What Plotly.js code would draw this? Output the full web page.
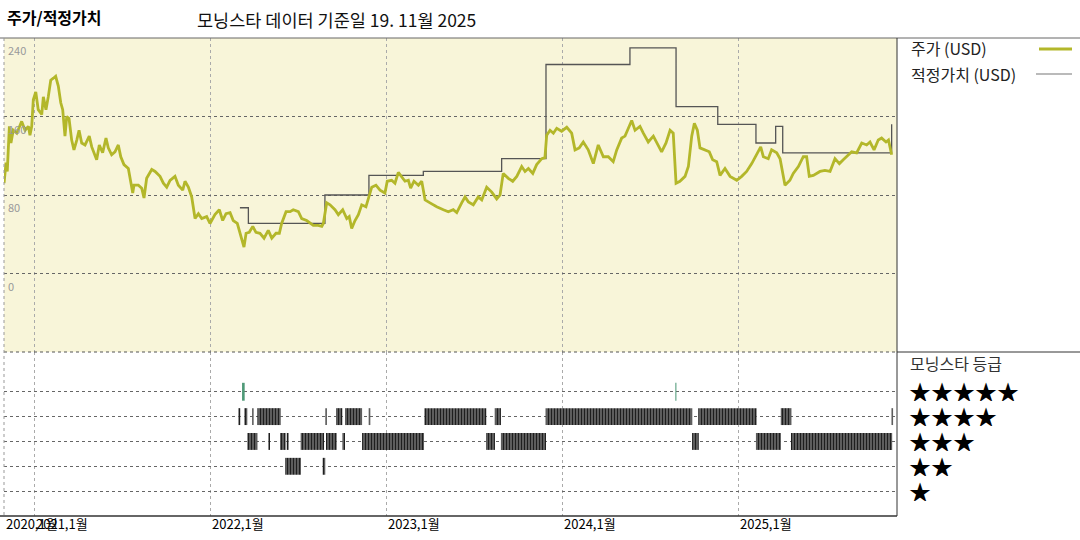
<!DOCTYPE html>
<html>
<head>
<meta charset="utf-8">
<script src="https://cdn.plot.ly/plotly-3.0.1.min.js"></script>
<style>
  html, body { margin: 0; padding: 0; background: #fff; }
  #myDiv { width: 1080px; height: 540px; }
</style>
</head>
<body>
<div id="myDiv"></div>
<script>
// dates are decimal years
var priceX = [2020.830, 2020.841, 2020.848, 2020.860, 2020.869, 2020.882, 2020.902, 2020.930, 2020.949, 2020.968,
  2020.977, 2020.987, 2020.996, 2021.010, 2021.024, 2021.044, 2021.053, 2021.068, 2021.081, 2021.095,
  2021.110, 2021.123, 2021.138, 2021.152, 2021.163, 2021.176, 2021.186, 2021.199, 2021.214, 2021.227,
  2021.243, 2021.256, 2021.271, 2021.290, 2021.314, 2021.328, 2021.356, 2021.371, 2021.390, 2021.409,
  2021.422, 2021.441, 2021.460, 2021.479, 2021.493, 2021.511, 2021.536, 2021.561, 2021.568, 2021.593,
  2021.612, 2021.625, 2021.640, 2021.669, 2021.688, 2021.716, 2021.735, 2021.754, 2021.773, 2021.801,
  2021.820, 2021.845, 2021.858, 2021.877, 2021.896, 2021.915, 2021.934, 2021.953, 2021.981, 2022.000,
  2022.028, 2022.053, 2022.072, 2022.091, 2022.114, 2022.132, 2022.155, 2022.170, 2022.193, 2022.205,
  2022.223, 2022.243, 2022.261, 2022.284, 2022.307, 2022.331, 2022.351, 2022.375, 2022.394, 2022.407,
  2022.432, 2022.455, 2022.473, 2022.502, 2022.521, 2022.549, 2022.568, 2022.587, 2022.615, 2022.635,
  2022.644, 2022.663, 2022.682, 2022.710, 2022.729, 2022.754, 2022.777, 2022.791, 2022.805, 2022.824,
  2022.843, 2022.862, 2022.886, 2022.905, 2022.919, 2022.943, 2022.966, 2022.994, 2023.007, 2023.032,
  2023.051, 2023.070, 2023.089, 2023.108, 2023.127, 2023.140, 2023.159, 2023.184, 2023.203, 2023.222,
  2023.250, 2023.288, 2023.326, 2023.354, 2023.382, 2023.402, 2023.430, 2023.449, 2023.468, 2023.496,
  2023.524, 2023.544, 2023.572, 2023.601, 2023.629, 2023.648, 2023.666, 2023.695, 2023.720, 2023.743,
  2023.771, 2023.790, 2023.809, 2023.834, 2023.856, 2023.885, 2023.903, 2023.913, 2023.932, 2023.951,
  2023.970, 2023.998, 2024.027, 2024.055, 2024.074, 2024.098, 2024.121, 2024.149, 2024.178, 2024.206,
  2024.235, 2024.263, 2024.291, 2024.311, 2024.339, 2024.358, 2024.377, 2024.396, 2024.415, 2024.443,
  2024.462, 2024.490, 2024.519, 2024.538, 2024.566, 2024.591, 2024.614, 2024.632, 2024.648, 2024.670,
  2024.699, 2024.718, 2024.737, 2024.752, 2024.769, 2024.784, 2024.813, 2024.837, 2024.856, 2024.879,
  2024.898, 2024.926, 2024.955, 2024.993, 2025.021, 2025.049, 2025.078, 2025.106, 2025.129, 2025.144,
  2025.172, 2025.191, 2025.220, 2025.239, 2025.267, 2025.295, 2025.314, 2025.343, 2025.371, 2025.390,
  2025.405, 2025.428, 2025.466, 2025.494, 2025.523, 2025.551, 2025.576, 2025.598, 2025.627, 2025.646,
  2025.674, 2025.703, 2025.731, 2025.750, 2025.773, 2025.797, 2025.816, 2025.841, 2025.855, 2025.873];
var priceY = [92, 113, 104, 150, 133, 146, 143, 155, 146, 150,
  141, 150, 177, 185, 167, 162, 180, 167, 180, 197,
  199, 201, 191, 174, 167, 140, 160, 158, 136, 126,
  136, 146, 133, 131, 140, 129, 116, 131, 123, 138,
  128, 121, 124, 131, 119, 111, 107, 82, 90, 90,
  87, 77, 97, 106, 104, 99, 92, 88, 95, 99,
  90, 85, 94, 88, 78, 56, 61, 56, 58, 51,
  60, 65, 54, 61, 62, 54, 51, 41, 27, 41,
  42, 48, 42, 41, 36, 44, 36, 41, 41, 51,
  63, 63, 65, 63, 56, 54, 51, 49, 49, 48,
  51, 72, 70, 65, 60, 65, 56, 58, 46, 54,
  60, 70, 68, 80, 88, 90, 85, 82, 94, 95,
  92, 103, 99, 94, 95, 87, 94, 90, 94, 75,
  72, 68, 65, 63, 65, 62, 72, 78, 73, 70,
  78, 75, 88, 83, 76, 80, 102, 97, 94, 99,
  109, 104, 107, 102, 111, 117, 118, 141, 146, 143,
  148, 145, 149, 143, 126, 128, 134, 126, 112, 131,
  119, 119, 114, 126, 138, 140, 148, 156, 146, 150,
  143, 134, 140, 133, 124, 133, 146, 143, 92, 94,
  99, 109, 140, 153, 146, 128, 126, 124, 116, 114,
  100, 107, 99, 95, 99, 104, 112, 121, 129, 119,
  117, 126, 123, 117, 90, 95, 102, 109, 119, 119,
  99, 100, 104, 105, 104, 117, 112, 116, 121, 124,
  123, 133, 131, 134, 126, 136, 138, 134, 136, 121];

var fairX = [2022.170, 2022.218, 2022.653, 2022.903, 2023.212, 2023.657, 2023.909, 2024.386,
  2024.648, 2024.885, 2025.102, 2025.214, 2025.254, 2025.869, 2025.873];
var fairY = [67, 51, 80, 100, 104, 117, 213, 230, 170, 152, 133, 150, 123, 123, 152];

var ratingStart = [2022.161, 2022.182, 2022.195, 2022.212, 2022.239, 2022.269, 2022.331, 2022.398,
  2022.426, 2022.436, 2022.515, 2022.640, 2022.655, 2022.659, 2022.716, 2022.752, 2022.767, 2022.864,
  2022.902, 2023.218, 2023.568, 2023.618, 2023.653, 2023.907, 2024.644, 2024.739, 2024.774, 2025.102,
  2025.243, 2025.301, 2025.872];
var ratingEnd = [2022.172, 2022.197, 2022.212, 2022.269, 2022.248, 2022.402, 2022.341, 2022.430,
  2022.517, 2022.447, 2022.648, 2022.655, 2022.663, 2022.720, 2022.752, 2022.767, 2022.864, 2023.216,
  2022.911, 2023.570, 2023.619, 2023.653, 2023.909, 2024.740, 2024.650, 2024.777, 2025.106, 2025.244,
  2025.303, 2025.876, 2025.881];
var ratingStars = [4, 5, 4, 3, 4, 4, 3, 3,
  2, 3, 3, 2, 4, 3, 4, 3, 4, 3,
  4, 4, 3, 4, 3, 4, 5, 3, 4, 3,
  4, 3, 4];

var yearTicks = [2021, 2022, 2023, 2024, 2025];
var yearLabels = ['2021,1월', '2022,1월', '2023,1월', '2024,1월', '2025,1월'];
var firstLabel = '2020,1월';
var priceTicks = [0, 80, 160, 240];
var starRows = [5, 4, 3, 2, 1];

var W = 1080, H = 540;
function px(x) { return x / W; }
function py(y) { return 1 - y / H; }

var FONT = 'Noto Sans CJK KR, Noto Sans, sans-serif';
var priceColor = '#b3b72a';
var fairColor = '#555555';

// rating bars, split into 5 star (green) and the rest (gray striped)
var gBase = [], gLen = [], gY = [], kBase = [], kLen = [], kY = [];
for (var i = 0; i < ratingStars.length; i++) {
  var len = Math.max(ratingEnd[i] - ratingStart[i], 0.006);
  if (ratingStars[i] === 5) { gBase.push(ratingStart[i]); gLen.push(len); gY.push(5); }
  else { kBase.push(ratingStart[i]); kLen.push(len); kY.push(ratingStars[i]); }
}

var data = [
  {
    x: fairX, y: fairY, type: 'scatter', mode: 'lines',
    line: {color: fairColor, width: 1.3, shape: 'hv'},
    xaxis: 'x', yaxis: 'y', hoverinfo: 'skip'
  },
  {
    x: priceX, y: priceY, type: 'scatter', mode: 'lines',
    line: {color: priceColor, width: 2.8},
    xaxis: 'x', yaxis: 'y', hoverinfo: 'skip'
  },
  {
    type: 'bar', orientation: 'h', base: kBase, x: kLen, y: kY, width: 0.68,
    marker: {color: '#4a4a4a', line: {width: 0},
      pattern: {shape: '|', fgcolor: '#1e1e1e', bgcolor: '#6a6a6a', size: 3, solidity: 0.45}},
    xaxis: 'x2', yaxis: 'y2', hoverinfo: 'skip'
  },
  {
    type: 'bar', orientation: 'h', base: gBase, x: gLen, y: gY, width: 0.72,
    marker: {color: '#4f9a78', line: {width: 0}},
    xaxis: 'x2', yaxis: 'y2', hoverinfo: 'skip'
  }
];

var xRange = [2020.8295, 2025.9034];
var annotations = [];
var shapes = [];

// titles
annotations.push({xref: 'paper', yref: 'paper', x: px(5), y: py(17), xanchor: 'left', yanchor: 'middle',
  text: '<b>주가/적정가치</b>', showarrow: false, font: {family: FONT, size: 16, color: '#000'}});
annotations.push({xref: 'paper', yref: 'paper', x: px(195), y: py(20), xanchor: 'left', yanchor: 'middle',
  text: '모닝스타 데이터 기준일 19. 11월 2025', showarrow: false, font: {family: FONT, size: 17.5, color: '#111'}});

// legend
annotations.push({xref: 'paper', yref: 'paper', x: px(909), y: py(48), xanchor: 'left', yanchor: 'middle',
  text: '주가 (USD)', showarrow: false, font: {family: FONT, size: 16, color: '#222'}});
annotations.push({xref: 'paper', yref: 'paper', x: px(909), y: py(74), xanchor: 'left', yanchor: 'middle',
  text: '적정가치 (USD)', showarrow: false, font: {family: FONT, size: 16, color: '#222'}});
shapes.push({type: 'line', xref: 'paper', yref: 'paper', x0: px(1039), x1: px(1072), y0: py(49), y1: py(49),
  line: {color: priceColor, width: 3}});
shapes.push({type: 'line', xref: 'paper', yref: 'paper', x0: px(1036), x1: px(1072), y0: py(74), y1: py(74),
  line: {color: '#777', width: 1.2}});
annotations.push({xref: 'paper', yref: 'paper', x: px(908), y: py(363), xanchor: 'left', yanchor: 'middle',
  text: '모닝스타 등급', showarrow: false, font: {family: FONT, size: 16, color: '#333'}});

// star rows (fixed box height so the rows sit tight like the reference)
starRows.forEach(function (n) {
  annotations.push({xref: 'paper', yref: 'y2', x: px(907), y: n, xanchor: 'left', yanchor: 'middle', yshift: 2,
    height: 23, valign: 'middle',
    text: '★'.repeat(n), showarrow: false, font: {family: FONT, size: 22, color: '#000'}});
});

// y tick labels, inside the plot just under each gridline
priceTicks.forEach(function (v) {
  annotations.push({xref: 'paper', yref: 'y', x: px(6), y: v, xanchor: 'left', yanchor: 'top', yshift: -2,
    text: String(v), showarrow: false, font: {family: FONT, size: 11, color: '#999'}});
});

// x tick labels, left aligned at each year
annotations.push({xref: 'x2', yref: 'paper', x: priceX[0], y: py(523), xanchor: 'left', yanchor: 'middle',
  text: firstLabel, showarrow: false, font: {family: FONT, size: 13, color: '#000'}});
yearTicks.forEach(function (t, k) {
  annotations.push({xref: 'x2', yref: 'paper', x: t, y: py(523), xanchor: 'left', yanchor: 'middle',
    text: yearLabels[k], showarrow: false, font: {family: FONT, size: 13, color: '#000'}});
});

// price panel background
shapes.push({type: 'rect', xref: 'paper', yref: 'paper', x0: px(4), x1: px(897), y0: py(352), y1: py(38),
  fillcolor: '#f8f5d9', line: {width: 0}, layer: 'below'});
// frame
shapes.push({type: 'line', xref: 'paper', yref: 'paper', x0: 0, x1: 1, y0: py(38), y1: py(38),
  line: {color: '#666', width: 1}});
shapes.push({type: 'line', xref: 'paper', yref: 'paper', x0: px(897), x1: px(897), y0: py(38), y1: py(516),
  line: {color: '#333', width: 1}});
shapes.push({type: 'line', xref: 'paper', yref: 'paper', x0: px(897), x1: 1, y0: py(352), y1: py(352),
  line: {color: '#333', width: 1}});
shapes.push({type: 'line', xref: 'paper', yref: 'paper', x0: px(4), x1: px(897), y0: py(352), y1: py(352),
  line: {color: '#555', width: 1, dash: 'dot'}});
shapes.push({type: 'line', xref: 'paper', yref: 'paper', x0: 0, x1: px(897), y0: py(516), y1: py(516),
  line: {color: '#333', width: 1.5}});
shapes.push({type: 'line', xref: 'paper', yref: 'paper', x0: px(4), x1: px(4), y0: py(38), y1: py(516),
  line: {color: '#999', width: 1, dash: 'dot'}});

var xCommon = {
  range: xRange, tickvals: yearTicks, showticklabels: false, ticks: '',
  showgrid: true, gridcolor: '#aaa', griddash: 'dot', gridwidth: 1,
  zeroline: false, showline: false, fixedrange: true
};

var layout = {
  width: W, height: H,
  margin: {l: 0, r: 0, t: 0, b: 0},
  paper_bgcolor: '#fff', plot_bgcolor: 'rgba(0,0,0,0)',
  showlegend: false, barmode: 'overlay',
  font: {family: FONT},
  xaxis: Object.assign({}, xCommon, {domain: [px(4), px(897)], anchor: 'y'}),
  xaxis2: Object.assign({}, xCommon, {domain: [px(4), px(897)], anchor: 'y2', matches: 'x'}),
  yaxis: {
    domain: [py(352), py(38)], range: [-80, 240], tickvals: priceTicks, showticklabels: false, ticks: '',
    showgrid: true, gridcolor: '#666', griddash: 'dot', zeroline: false, showline: false, anchor: 'x'
  },
  yaxis2: {
    domain: [py(516), py(352)], range: [0, 6.6], tickvals: starRows, showticklabels: false, ticks: '',
    showgrid: true, gridcolor: '#666', griddash: 'dot', zeroline: false, showline: false, anchor: 'x2'
  },
  annotations: annotations,
  shapes: shapes
};

Plotly.newPlot('myDiv', data, layout, {staticPlot: true, displayModeBar: false});
</script>
</body>
</html>
